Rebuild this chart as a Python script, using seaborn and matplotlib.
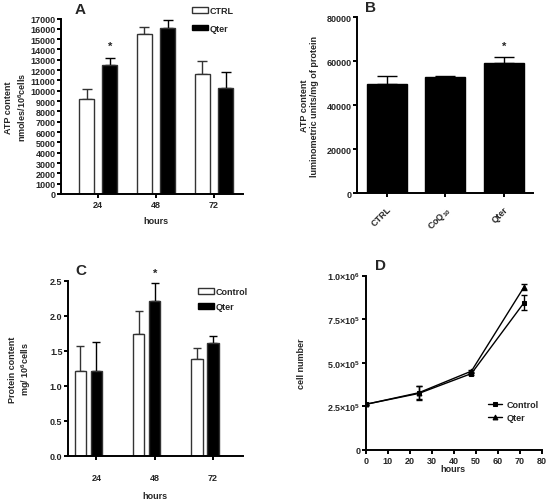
import numpy as np
import pandas as pd
import matplotlib
matplotlib.use("Agg")
import matplotlib.pyplot as plt
from matplotlib.patches import Patch
import seaborn as sns

# ---------------- data ----------------
hours_cat = ["24", "48", "72"]

# Panel A: ATP content (nmoles/10^6 cells)
a_ctrl = [9200, 15500, 11650]
a_ctrl_err = [950, 650, 1250]
a_qter = [12450, 16050, 10300]
a_qter_err = [750, 800, 1500]

# Panel B: ATP content (luminometric units/mg protein)
b_groups = ["CTRL", "CoQ10", "Qter"]
b_labels = ["CTRL", "CoQ$_{\\mathbf{10}}$", "Qter"]
b_vals = [49600, 52900, 59000]
b_err = [3800, 250, 2800]

# Panel C: protein content (mg/10^6 cells)
c_ctrl = [1.21, 1.75, 1.39]
c_ctrl_err = [0.36, 0.32, 0.16]
c_qter = [1.21, 2.21, 1.61]
c_qter_err = [0.42, 0.26, 0.11]

# Panel D: cell number
d_hours = [0, 24, 48, 72]
d_ctrl = [262000, 324000, 438000, 845000]
d_ctrl_err = [5000, 40000, 6000, 42000]
d_qter = [262000, 328000, 452000, 935000]
d_qter_err = [5000, 38000, 6000, 18000]

# ---------------- style ----------------
sns.set_style("ticks")
plt.rcParams["font.family"] = ["Liberation Sans", "DejaVu Sans"]
plt.rcParams["font.weight"] = "bold"
plt.rcParams["axes.labelweight"] = "bold"
plt.rcParams["mathtext.fontset"] = "custom"
plt.rcParams["mathtext.rm"] = "Liberation Sans:bold"
plt.rcParams["mathtext.bf"] = "Liberation Sans:bold"
plt.rcParams["mathtext.it"] = "Liberation Sans:bold"

W, H = 549, 502
fig = plt.figure(figsize=(W / 100, H / 100), dpi=100)


def px_axes(left, right, top, bottom):
    return fig.add_axes([left / W, 1 - bottom / H, (right - left) / W, (bottom - top) / H])


TICK_FS = 6.5
LAB_FS = 6.5
LW = 1.4


def style_axes(ax):
    sns.despine(ax=ax)
    for s in ["left", "bottom"]:
        ax.spines[s].set_linewidth(LW)
        ax.spines[s].set_color("black")
    ax.tick_params(axis="both", length=3, width=LW, labelsize=TICK_FS, pad=1, color="black")
    for lab in ax.get_xticklabels() + ax.get_yticklabels():
        lab.set_fontweight("bold")


def add_err(ax, container, errs, capsize, color="black", lw=1):
    xs = [p.get_x() + p.get_width() / 2 for p in container]
    ys = [p.get_height() for p in container]
    ax.errorbar(xs, ys, yerr=[np.zeros(len(errs)), errs], fmt="none", ecolor=color,
                elinewidth=lw, capsize=capsize, capthick=lw, zorder=1)


def place_labels(ax, ylab_x, xlab_y=None, xlab_x=0.5):
    ax.yaxis.set_label_coords(ylab_x, 0.5)
    if xlab_y is not None:
        ax.xaxis.set_label_coords(xlab_x, xlab_y)


# ---------------- Panel A ----------------
axA = px_axes(61, 243, 19.5, 195)
dfA = pd.DataFrame({
    "hours": hours_cat * 2,
    "atp": a_ctrl + a_qter,
    "group": ["CTRL"] * 3 + ["Qter"] * 3,
})
sns.barplot(data=dfA, x="hours", y="atp", hue="group", hue_order=["CTRL", "Qter"],
            order=hours_cat, palette={"CTRL": "white", "Qter": "black"}, saturation=1,
            edgecolor="#333333", linewidth=1, width=0.8, gap=0.35, errorbar=None,
            ax=axA, legend=False, zorder=2)
add_err(axA, axA.containers[0], a_ctrl_err, 3.6, color="#333333")
add_err(axA, axA.containers[1], a_qter_err, 3.6)
axA.set_xlim(-0.64, 2.5)
axA.set_ylim(0, 17000)
axA.set_yticks(np.arange(0, 17001, 1000))
axA.set_xlabel("hours", fontsize=LAB_FS)
axA.set_ylabel("ATP content\nnmoles/10$^{\\mathbf{6}}$cells", fontsize=LAB_FS,
               linespacing=1.3)
style_axes(axA)
place_labels(axA, (28 - 61) / 182, (195 - 217) / 175.5, 0.52)
qA = axA.containers[1][0]
axA.text(qA.get_x() + qA.get_width() / 2, a_qter[0] + a_qter_err[0] + 700, "*",
         ha="center", va="bottom", fontsize=8, fontweight="bold")
axA.text(0.107, 1.054, "A", transform=axA.transAxes, fontsize=11, fontweight="bold",
         ha="center", va="center")
hA = [Patch(facecolor="white", edgecolor="#333333", linewidth=1),
      Patch(facecolor="black", edgecolor="black", linewidth=1)]
fig.legend(hA, ["CTRL", "Qter"], loc="upper left", bbox_to_anchor=(192 / W, 1 - 7.5 / H),
           frameon=False, fontsize=LAB_FS, handlelength=1.8, handleheight=0.6,
           labelspacing=0.9, handletextpad=0.2, borderaxespad=0, borderpad=0)

# ---------------- Panel B ----------------
axB = px_axes(357, 533, 18.3, 194)
dfB = pd.DataFrame({"group": b_groups, "atp": b_vals})
sns.barplot(data=dfB, x="group", y="atp", order=b_groups, color="black", saturation=1,
            width=0.69, errorbar=None, ax=axB, edgecolor="black", linewidth=1, zorder=2)
add_err(axB, axB.containers[0], b_err, 7)
axB.set_xlim(-0.51, 2.5)
axB.set_ylim(0, 80000)
axB.set_yticks(np.arange(0, 80001, 20000))
axB.set_xticks(range(3))
axB.set_xticklabels(b_labels, rotation=45, ha="right", rotation_mode="anchor")
axB.set_xlabel("")
axB.set_ylabel("ATP content\nluminometric units/mg of protein", fontsize=LAB_FS,
               linespacing=1.2)
style_axes(axB)
axB.tick_params(axis="x", pad=5)
place_labels(axB, (319 - 357) / 176)
axB.text(2, b_vals[2] + b_err[2] + 3000, "*", ha="center", va="bottom", fontsize=8,
         fontweight="bold")
axB.text(0.074, 1.061, "B", transform=axB.transAxes, fontsize=11, fontweight="bold",
         ha="center", va="center")

# ---------------- Panel C ----------------
axC = px_axes(68, 243.3, 282, 457)
dfC = pd.DataFrame({
    "hours": hours_cat * 2,
    "protein": c_ctrl + c_qter,
    "group": ["Control"] * 3 + ["Qter"] * 3,
})
sns.barplot(data=dfC, x="hours", y="protein", hue="group", hue_order=["Control", "Qter"],
            order=hours_cat, palette={"Control": "white", "Qter": "black"}, saturation=1,
            edgecolor="#333333", linewidth=1, width=0.55, gap=0.3, errorbar=None,
            ax=axC, legend=False, zorder=2)
add_err(axC, axC.containers[0], c_ctrl_err, 3, color="#333333")
add_err(axC, axC.containers[1], c_qter_err, 3)
axC.set_xlim(-0.35, 2.655)
axC.set_ylim(0, 2.5)
axC.set_yticks(np.arange(0, 2.51, 0.5))
axC.set_yticklabels([f"{v:.1f}" for v in np.arange(0, 2.51, 0.5)])
axC.set_xticks([i + 0.137 for i in range(3)])
axC.set_xticklabels(hours_cat)
axC.set_xlabel("hours", fontsize=LAB_FS)
axC.set_ylabel("Protein content\nmg/ 10$^{\\mathbf{6}}$cells", fontsize=LAB_FS,
               linespacing=1.2)
style_axes(axC)
axC.tick_params(axis="x", pad=9)
place_labels(axC, (33 - 68) / 175.3, (457 - 492) / 175, 0.496)
qC = axC.containers[1][1]
axC.text(qC.get_x() + qC.get_width() / 2, c_qter[1] + c_qter_err[1] + 0.08, "*",
         ha="center", va="bottom", fontsize=8, fontweight="bold")
axC.text(0.074, 1.06, "C", transform=axC.transAxes, fontsize=11, fontweight="bold",
         ha="center", va="center")
hC = [Patch(facecolor="white", edgecolor="#333333", linewidth=1),
      Patch(facecolor="black", edgecolor="black", linewidth=1)]
fig.legend(hC, ["Control", "Qter"], loc="upper left", bbox_to_anchor=(198 / W, 1 - 288 / H),
           frameon=False, fontsize=LAB_FS, handlelength=1.8, handleheight=0.6,
           labelspacing=0.7, handletextpad=0.2, borderaxespad=0, borderpad=0)

# ---------------- Panel D ----------------
axD = px_axes(366, 541.7, 276.5, 451)
dfD = pd.DataFrame({
    "hours": d_hours * 2,
    "cells": d_ctrl + d_qter,
    "group": ["Control"] * 4 + ["Qter"] * 4,
})
sns.lineplot(data=dfD, x="hours", y="cells", hue="group", style="group",
             hue_order=["Control", "Qter"], style_order=["Control", "Qter"],
             markers={"Control": "s", "Qter": "^"}, dashes=False,
             palette={"Control": "black", "Qter": "black"}, markersize=3.5,
             markeredgecolor="black", linewidth=1, ax=axD, legend=True, zorder=3)
axD.errorbar(d_hours, d_ctrl, yerr=d_ctrl_err, fmt="none", ecolor="black",
             elinewidth=1, capsize=2.5, capthick=1)
axD.errorbar(d_hours, d_qter, yerr=d_qter_err, fmt="none", ecolor="black",
             elinewidth=1, capsize=2.5, capthick=1)
axD.set_xlim(0, 80)
axD.set_ylim(0, 1000000)
axD.set_xticks(np.arange(0, 81, 10))
axD.set_yticks([0, 250000, 500000, 750000, 1000000])
axD.set_yticklabels(["0", "2.5×10$^{\\mathbf{5}}$", "5.0×10$^{\\mathbf{5}}$",
                     "7.5×10$^{\\mathbf{5}}$", "1.0×10$^{\\mathbf{6}}$"])
axD.set_xlabel("hours", fontsize=LAB_FS)
axD.set_ylabel("cell number", fontsize=LAB_FS)
style_axes(axD)
place_labels(axD, (306 - 366) / 175.7, (451 - 465) / 174.5, 0.495)
hD, lD = axD.get_legend_handles_labels()
axD.legend(hD, lD, loc="upper left", bbox_to_anchor=((488 - 366) / 175.7, (451 - 401) / 174.5),
           frameon=False, fontsize=LAB_FS, handlelength=1.6, labelspacing=0.45,
           handletextpad=0.5, borderaxespad=0, borderpad=0)
axD.text(0.08, 1.06, "D", transform=axD.transAxes, fontsize=11, fontweight="bold",
         ha="center", va="center")

fig.savefig("out.png", dpi=100)
